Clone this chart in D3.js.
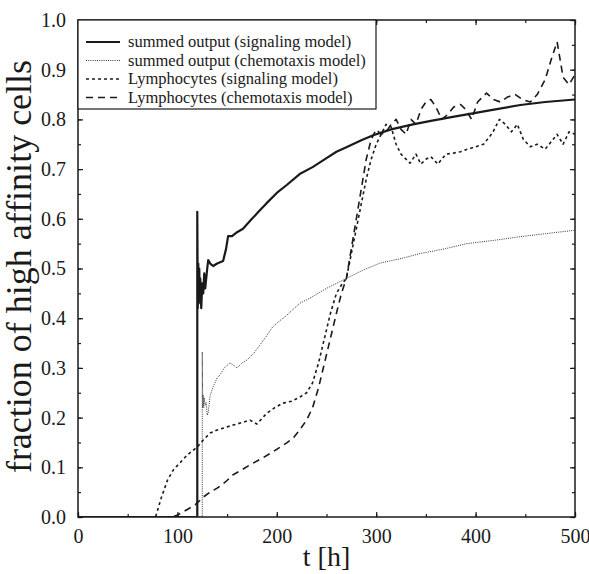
<!DOCTYPE html>
<html>
<head>
<meta charset="utf-8">
<script src="https://cdn.jsdelivr.net/npm/d3@7"></script>
<style>
    body { margin: 0; background: #fff; }
    #chart-area { width: 589px; height: 574px; }
    text { font-family: "Liberation Serif", "Times New Roman", serif; fill: #1a1a1a; }
</style>
</head>
<body>
<div id="chart-area"></div>
<script>

// series data, [t (h), fraction]
var sumSignaling = [
    [0, 0], [120, 0], [120, 0.614], [120.5, 0.42], [121, 0.51], [121.5, 0.43], [122, 0.50],
    [122.5, 0.44], [123, 0.48], [124, 0.42], [125, 0.47], [126, 0.45], [127, 0.49], [128, 0.46],
    [130, 0.50], [131, 0.517], [133, 0.51], [136, 0.505], [140, 0.51], [146, 0.515], [149, 0.54],
    [151, 0.565], [155, 0.565], [160, 0.573], [166, 0.58], [175, 0.60], [183, 0.617], [190, 0.632],
    [200, 0.652], [210, 0.668], [223, 0.69], [236, 0.704], [250, 0.722], [260, 0.735], [270, 0.744],
    [285, 0.758], [297, 0.768], [315, 0.78], [337, 0.79], [355, 0.797], [377, 0.805], [400, 0.813],
    [417, 0.819], [445, 0.829], [470, 0.835], [500, 0.84]
];

var sumChemotaxis = [
    [0, 0], [125, 0], [125, 0.332], [125.5, 0.22], [126, 0.245], [126.5, 0.22], [127, 0.24],
    [128, 0.225], [129, 0.23], [130, 0.205], [131, 0.21], [133, 0.245], [136, 0.262], [140, 0.28],
    [143, 0.286], [147, 0.30], [153, 0.31], [157, 0.305], [160, 0.30], [165, 0.31], [170, 0.316],
    [177, 0.33], [183, 0.346], [190, 0.365], [196, 0.383], [203, 0.395], [210, 0.406], [223, 0.43],
    [233, 0.44], [250, 0.46], [270, 0.48], [287, 0.497], [304, 0.511], [325, 0.52], [344, 0.53],
    [370, 0.54], [391, 0.55], [420, 0.557], [445, 0.564], [470, 0.57], [500, 0.577]
];

var lymphSignaling = [
    [0, 0], [78, 0], [84, 0.04], [90, 0.074], [96, 0.095], [103, 0.11], [110, 0.125], [120, 0.141],
    [126, 0.155], [133, 0.169], [140, 0.175], [148, 0.18], [156, 0.185], [165, 0.19], [173, 0.195],
    [180, 0.187], [185, 0.198], [190, 0.209], [198, 0.22], [206, 0.229], [215, 0.233], [223, 0.241],
    [230, 0.25], [236, 0.27], [242, 0.31], [248, 0.36], [254, 0.41], [260, 0.45], [266, 0.47],
    [270, 0.48], [275, 0.53], [280, 0.58], [285, 0.63], [290, 0.68], [295, 0.72], [300, 0.75],
    [305, 0.77], [310, 0.79], [315, 0.785], [320, 0.75], [325, 0.73], [330, 0.72], [334, 0.712],
    [340, 0.73], [345, 0.71], [350, 0.72], [355, 0.725], [362, 0.71], [370, 0.73], [377, 0.732],
    [385, 0.735], [392, 0.74], [400, 0.745], [408, 0.75], [417, 0.773], [424, 0.80], [430, 0.79],
    [436, 0.775], [442, 0.79], [448, 0.76], [455, 0.745], [462, 0.75], [470, 0.74], [476, 0.755],
    [482, 0.77], [488, 0.75], [494, 0.775], [500, 0.77]
];

var lymphChemotaxis = [
    [0, 0], [95, 0], [100, 0.004], [110, 0.015], [118, 0.025], [123, 0.034], [126, 0.04], [133, 0.05],
    [140, 0.058], [148, 0.07], [156, 0.085], [165, 0.095], [173, 0.105], [185, 0.118], [196, 0.131],
    [203, 0.14], [210, 0.149], [217, 0.16], [223, 0.175], [230, 0.195], [236, 0.22], [242, 0.26],
    [248, 0.31], [254, 0.36], [260, 0.41], [265, 0.45], [270, 0.48], [275, 0.54], [280, 0.60],
    [285, 0.66], [290, 0.72], [295, 0.76], [300, 0.78], [305, 0.77], [310, 0.775], [315, 0.79],
    [320, 0.80], [325, 0.78], [330, 0.77], [335, 0.80], [340, 0.79], [345, 0.82], [350, 0.835],
    [355, 0.84], [360, 0.825], [366, 0.80], [372, 0.81], [378, 0.825], [385, 0.83], [390, 0.82],
    [396, 0.80], [402, 0.835], [411, 0.853], [418, 0.84], [425, 0.835], [432, 0.845], [440, 0.85],
    [447, 0.84], [455, 0.835], [462, 0.85], [470, 0.88], [476, 0.92], [482, 0.956], [488, 0.885],
    [494, 0.87], [500, 0.89]
];

var seriesNames = [
    "summed output (signaling model)",
    "summed output (chemotaxis model)",
    "Lymphocytes (signaling model)",
    "Lymphocytes (chemotaxis model)"
];

var xTicks = [0, 100, 200, 300, 400, 500];
var yTicks = [0.0, 0.1, 0.2, 0.3, 0.4, 0.5, 0.6, 0.7, 0.8, 0.9, 1.0];


LineChart = function(_parentElement, _series) {
    this.parentElement = _parentElement;
    this.series = _series;

    this.initVis();
}

LineChart.prototype.initVis = function() {
    var vis = this;

    vis.margin = {top: 20, right: 14, bottom: 57, left: 78};
    vis.width = 589 - vis.margin.left - vis.margin.right;
    vis.height = 574 - vis.margin.top - vis.margin.bottom;

    vis.svg = d3.select("#" + vis.parentElement).append("svg")
        .attr("width", 589)
        .attr("height", 574)
        .append("g")
        .attr("transform", "translate(" + vis.margin.left + "," + vis.margin.top + ")");

    vis.x = d3.scaleLinear().domain([0, 500]).range([0, vis.width]);
    vis.y = d3.scaleLinear().domain([0, 1]).range([vis.height, 0]);

    vis.line = d3.line()
        .x(function(d) { return vis.x(d[0]); })
        .y(function(d) { return vis.y(d[1]); });

    vis.wrangleData();
}

LineChart.prototype.wrangleData = function() {
    var vis = this;

    // line styles per series
    vis.styles = [
        {width: 2.2, dash: null, color: "#1a1a1a"},
        {width: 1, dash: "1,1.2", color: "#333"},
        {width: 1.6, dash: "3,3", color: "#1a1a1a"},
        {width: 1.6, dash: "7,5", color: "#1a1a1a"}
    ];

    vis.displayData = vis.series.map(function(s, i) {
        return {name: seriesNames[i], values: s, style: vis.styles[i]};
    });

    vis.updateVis();
}

LineChart.prototype.updateVis = function() {
    var vis = this;

    vis.svg.append("clipPath").attr("id", "plot-clip")
        .append("rect").attr("width", vis.width).attr("height", vis.height);

    // lines
    vis.svg.append("g").attr("clip-path", "url(#plot-clip)")
        .selectAll(".series")
        .data(vis.displayData)
        .enter()
        .append("path")
        .attr("class", "series")
        .attr("d", function(d) { return vis.line(d.values); })
        .attr("fill", "none")
        .attr("stroke", function(d) { return d.style.color; })
        .attr("stroke-width", function(d) { return d.style.width; })
        .attr("stroke-dasharray", function(d) { return d.style.dash; })
        .attr("stroke-linejoin", "round");

    // axes, ticks inward on all four sides
    var xMinor = d3.range(0, 501, 50);
    var yMinor = d3.range(0, 1.001, 0.05);

    vis.svg.append("g")
        .attr("transform", "translate(0," + vis.height + ")")
        .call(d3.axisBottom(vis.x).tickValues(xMinor).tickSize(-3).tickFormat(""));
    vis.svg.append("g")
        .attr("transform", "translate(0," + vis.height + ")")
        .call(d3.axisBottom(vis.x).tickValues(xTicks).tickSize(-5).tickPadding(12).tickFormat(d3.format("d")))
        .attr("class", "x-axis");
    vis.svg.append("g")
        .call(d3.axisTop(vis.x).tickValues(xMinor).tickSize(-3).tickFormat(""));
    vis.svg.append("g")
        .call(d3.axisTop(vis.x).tickValues(xTicks).tickSize(-5).tickFormat(""));

    vis.svg.append("g")
        .call(d3.axisLeft(vis.y).tickValues(yMinor).tickSize(-3).tickFormat(""));
    vis.svg.append("g")
        .call(d3.axisLeft(vis.y).tickValues(yTicks).tickSize(-5).tickPadding(12).tickFormat(d3.format(".1f")))
        .attr("class", "y-axis");
    vis.svg.append("g")
        .attr("transform", "translate(" + vis.width + ",0)")
        .call(d3.axisRight(vis.y).tickValues(yMinor).tickSize(-3).tickFormat(""));
    vis.svg.append("g")
        .attr("transform", "translate(" + vis.width + ",0)")
        .call(d3.axisRight(vis.y).tickValues(yTicks).tickSize(-5).tickFormat(""));

    vis.svg.selectAll(".domain").remove();
    vis.svg.selectAll(".tick line").attr("stroke", "#1a1a1a").attr("stroke-width", 1.2);
    vis.svg.selectAll(".x-axis text, .y-axis text")
        .style("font-family", "'Liberation Serif', serif")
        .style("font-size", "20px")
        .attr("fill", "#1a1a1a");

    // frame
    vis.svg.append("rect")
        .attr("width", vis.width)
        .attr("height", vis.height)
        .attr("fill", "none")
        .attr("stroke", "#1a1a1a")
        .attr("stroke-width", 1.5);

    // axis titles
    vis.svg.append("text")
        .attr("x", vis.width / 2)
        .attr("y", vis.height + 49)
        .attr("text-anchor", "middle")
        .style("font-size", "28px")
        .text("t [h]");

    vis.svg.append("text")
        .attr("transform", "translate(" + (-47) + "," + (vis.height / 2 - 2) + ") rotate(-90)")
        .attr("text-anchor", "middle")
        .style("font-size", "36px")
        .text("fraction of high affinity cells");

    // legend
    var legend = vis.svg.append("g").attr("class", "legend");
    legend.append("rect")
        .attr("width", 298)
        .attr("height", 89)
        .attr("fill", "#fff")
        .attr("stroke", "#1a1a1a")
        .attr("stroke-width", 1.2);

    var rows = legend.selectAll(".legend-row")
        .data(vis.displayData)
        .enter()
        .append("g")
        .attr("class", "legend-row")
        .attr("transform", function(d, i) { return "translate(0," + (22 + i * 18.5) + ")"; });

    rows.append("line")
        .attr("x1", 8).attr("x2", 42)
        .attr("stroke", function(d) { return d.style.color; })
        .attr("stroke-width", function(d) { return d.style.width; })
        .attr("stroke-dasharray", function(d) { return d.style.dash; });

    rows.append("text")
        .attr("x", 50)
        .attr("y", 5)
        .style("font-size", "16.5px")
        .text(function(d) { return d.name; });
}

var chart = new LineChart("chart-area", [sumSignaling, sumChemotaxis, lymphSignaling, lymphChemotaxis]);

</script>
</body>
</html>
